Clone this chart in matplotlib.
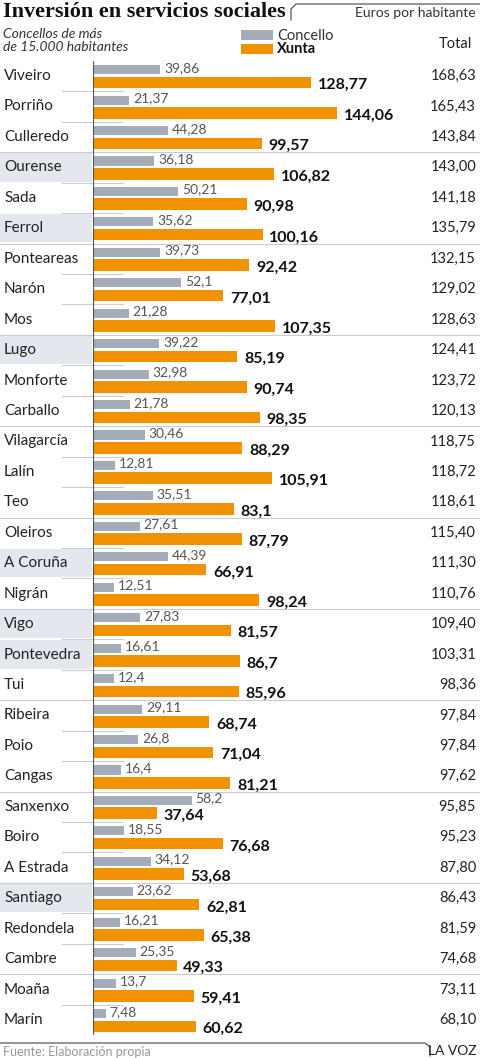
import matplotlib.pyplot as plt
from matplotlib.patches import Rectangle

plt.rcParams['font.family'] = ['Lato', 'DejaVu Sans']

cities = ["Viveiro", "Porriño", "Culleredo", "Ourense", "Sada", "Ferrol",
          "Ponteareas", "Narón", "Mos", "Lugo", "Monforte", "Carballo",
          "Vilagarcía", "Lalín", "Teo", "Oleiros", "A Coruña", "Nigrán",
          "Vigo", "Pontevedra", "Tui", "Ribeira", "Poio", "Cangas",
          "Sanxenxo", "Boiro", "A Estrada", "Santiago", "Redondela", "Cambre",
          "Moaña", "Marín"]
concello = [39.86, 21.37, 44.28, 36.18, 50.21, 35.62, 39.73, 52.1, 21.28,
            39.22, 32.98, 21.78, 30.46, 12.81, 35.51, 27.61, 44.39, 12.51,
            27.83, 16.61, 12.4, 29.11, 26.8, 16.4, 58.2, 18.55, 34.12, 23.62,
            16.21, 25.35, 13.7, 7.48]
xunta = [128.77, 144.06, 99.57, 106.82, 90.98, 100.16, 92.42, 77.01, 107.35,
         85.19, 90.74, 98.35, 88.29, 105.91, 83.1, 87.79, 66.91, 98.24,
         81.57, 86.7, 85.96, 68.74, 71.04, 81.21, 37.64, 76.68, 53.68, 62.81,
         65.38, 49.33, 59.41, 60.62]
total = [168.63, 165.43, 143.84, 143.00, 141.18, 135.79, 132.15, 129.02,
         128.63, 124.41, 123.72, 120.13, 118.75, 118.72, 118.61, 115.40,
         111.30, 110.76, 109.40, 103.31, 98.36, 97.84, 97.84, 97.62, 95.85,
         95.23, 87.80, 86.43, 81.59, 74.68, 73.11, 68.10]
capitals = ["Ourense", "Ferrol", "Lugo", "A Coruña", "Vigo", "Pontevedra",
            "Santiago"]


def fmt(v, dec=None):
    s = ("%.2f" % v) if dec else ("%g" % v)
    return s.replace(".", ",")


W, H = 480, 1058
GRAY = "#a4abb9"
ORANGE = "#f39200"
SHADE = "#e4e7ee"
LINE = "#c9ccd2"

fig = plt.figure(figsize=(W / 100, H / 100), dpi=100)

# overlay axes in pixel coordinates for decoration
deco = fig.add_axes([0, 0, 1, 1])
deco.set_xlim(0, W)
deco.set_ylim(H, 0)
deco.axis("off")

top_px, row_px = 60.8, 30.45
n = len(cities)

# chart axes: x origin at 93px
x0 = 93
scale = 1.693
ax = fig.add_axes([x0 / W, 1 - (top_px + n * row_px) / H, (W - x0) / W, n * row_px / H])
ax.set_xlim(0, (W - x0) / scale)
ax.set_ylim(n - 0.5, -0.5)
ax.axis("off")

for i, c in enumerate(cities):
    yc = top_px + (i + 0.5) * row_px
    if c in capitals:
        deco.add_patch(Rectangle((0, yc - row_px / 2 + 1), x0 - 1, row_px - 2,
                                 color=SHADE, lw=0, zorder=0))
    deco.text(4, yc, c, fontsize=11, va="center", ha="left", color="#222222")
    deco.text(476, yc, fmt(total[i], True), fontsize=10.5, va="center",
              ha="right", color="#222222")
    if i > 0:
        yb = top_px + i * row_px
        if i % 3 == 0:
            deco.plot([0, W], [yb, yb], color=LINE, lw=0.8, zorder=1)
        else:
            deco.plot([62, 123], [yb, yb], color=LINE, lw=0.8, zorder=1)

ys = list(range(n))
ax.barh([y - 0.21 for y in ys], concello, height=0.3, color=GRAY, zorder=3)
ax.barh([y + 0.21 for y in ys], xunta, height=0.38, color=ORANGE, zorder=3)
ax.axvline(0, color="#555555", lw=0.8, zorder=4)
for i in ys:
    ax.text(concello[i] + 2.2, i - 0.27, fmt(concello[i]), fontsize=10,
            va="center", ha="left", color="#555555", zorder=5)
    ax.text(xunta[i] + 4.0, i + 0.3, fmt(xunta[i]), fontsize=11.5,
            va="center", ha="left", color="#111111", fontweight="bold",
            zorder=5)

# header
deco.text(3, 12, "Inversión en servicios sociales", fontsize=16,
          fontweight="bold", family="Liberation Serif", va="center",
          color="#111111")
deco.plot([291, 291, 296, 480], [20, 9, 4, 4], color="#444444", lw=0.8)
deco.text(476, 13, "Euros por habitante", fontsize=10, ha="right",
          va="center", color="#333333")
deco.text(3, 34, "Concellos de más", fontsize=10, style="italic",
          va="center", color="#333333")
deco.text(3, 47, "de 15.000 habitantes", fontsize=10, style="italic",
          va="center", color="#333333")
deco.add_patch(Rectangle((241, 30), 32, 10, color=GRAY, lw=0))
deco.add_patch(Rectangle((241, 44), 32, 10, color=ORANGE, lw=0))
deco.text(277, 36, "Concello", fontsize=10.5, va="center", color="#333333")
deco.text(277, 49, "Xunta", fontsize=10.5, va="center", fontweight="bold",
          color="#111111")
deco.text(472, 44, "Total", fontsize=10.5, ha="right", va="center",
          color="#222222")

# footer
deco.plot([0, 425, 430, 430], [1043, 1043, 1047, 1056], color="#444444", lw=0.8)
deco.text(3, 1052, "Fuente: Elaboración propia", fontsize=9, va="center",
          color="#999999")
deco.text(477, 1051, "LA VOZ", fontsize=10, ha="right", va="center",
          color="#222222")

fig.savefig("out.png", dpi=100)
